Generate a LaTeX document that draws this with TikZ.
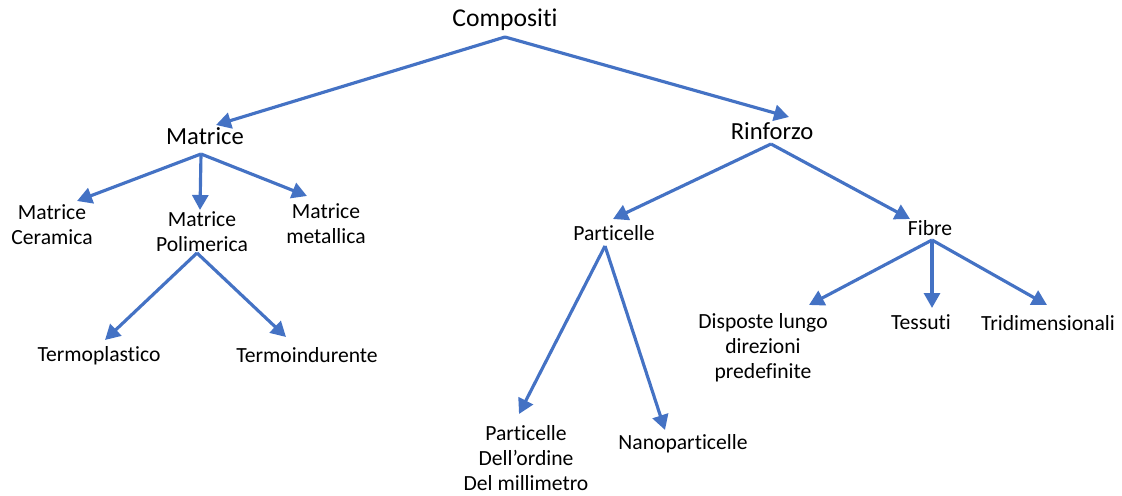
\documentclass[tikz,border=0pt]{standalone}
\usepackage{fontspec}
\setmainfont[RawFeature={-liga;-clig;-calt}]{Carlito}
\usepackage{xcolor}
\usepackage{tikz}
\usetikzlibrary{arrows.meta}
\definecolor{officeblue}{HTML}{4472C4}

\begin{document}
\begin{tikzpicture}[x=0.02cm, y=-0.02cm,
  leaf/.style={align=center, inner sep=0pt, font=\fontsize{12.3}{14.2}\selectfont},
  arr/.style={-{Triangle[length=0.3cm, width=0.32cm]}, line width=1.8pt, officeblue}]
\useasboundingbox (0,0) rectangle (1122,496);
\node (compositi) [leaf, font=\fontsize{14.6}{17}\selectfont] at (505,20) {Compositi};
\node (matrice) [leaf, font=\fontsize{14}{17}\selectfont] at (205,136) {Matrice};
\node (rinforzo) [leaf, font=\fontsize{14}{17}\selectfont] at (772,131) {Rinforzo};
\node (ceramica) [leaf] at (52,225) {Matrice\\Ceramica};
\node (polimerica) [leaf] at (202,232) {Matrice\\Polimerica};
\node (metallica) [leaf] at (326,224) {Matrice\\metallica};
\node (termoplastico) [leaf] at (99,356) {Termoplastico};
\node (termoindurente) [leaf] at (307,355) {Termoindurente};
\node (particelle) [leaf] at (614,233) {Particelle};
\node (fibre) [leaf] at (930,228) {Fibre};
\node (millimetro) [leaf] at (526,458) {Particelle\\Dell’ordine\\Del millimetro};
\node (nano) [leaf] at (683,444) {Nanoparticelle};
\node (disposte) [leaf] at (763,348) {Disposte lungo\\direzioni\\predefinite};
\node (tessuti) [leaf] at (921,322) {Tessuti};
\node (tridim) [leaf] at (1048,323) {Tridimensionali};

\draw[arr] ([shift={(0,17)}]compositi.center) -- ([shift={(11,-11)}]matrice.center);
\draw[arr] ([shift={(0,17)}]compositi.center) -- ([shift={(17,-14)}]rinforzo.center);
\draw[arr] ([shift={(-4,18)}]matrice.center) -- ([shift={(25,-24)}]ceramica.center);
\draw[arr] ([shift={(-4,18)}]matrice.center) -- ([shift={(-2,-22)}]polimerica.center);
\draw[arr] ([shift={(-4,18)}]matrice.center) -- ([shift={(-19,-28)}]metallica.center);
\draw[arr] ([shift={(-5,21)}]polimerica.center) -- ([shift={(6,-16)}]termoplastico.center);
\draw[arr] ([shift={(-5,21)}]polimerica.center) -- ([shift={(-21,-18)}]termoindurente.center);
\draw[arr] ([shift={(-1,13)}]rinforzo.center) -- ([shift={(-1,-14)}]particelle.center);
\draw[arr] ([shift={(-1,13)}]rinforzo.center) -- ([shift={(-20,-9)}]fibre.center);
\draw[arr] ([shift={(-9,13)}]particelle.center) -- ([shift={(-7,-44)}]millimetro.center);
\draw[arr] ([shift={(-9,13)}]particelle.center) -- ([shift={(-18,-14)}]nano.center);
\draw[arr] ([shift={(2,12)}]fibre.center) -- ([shift={(46,-43)}]disposte.center);
\draw[arr] ([shift={(2,12)}]fibre.center) -- ([shift={(11,-14)}]tessuti.center);
\draw[arr] ([shift={(2,12)}]fibre.center) -- ([shift={(-1,-18)}]tridim.center);
\end{tikzpicture}
\end{document}
